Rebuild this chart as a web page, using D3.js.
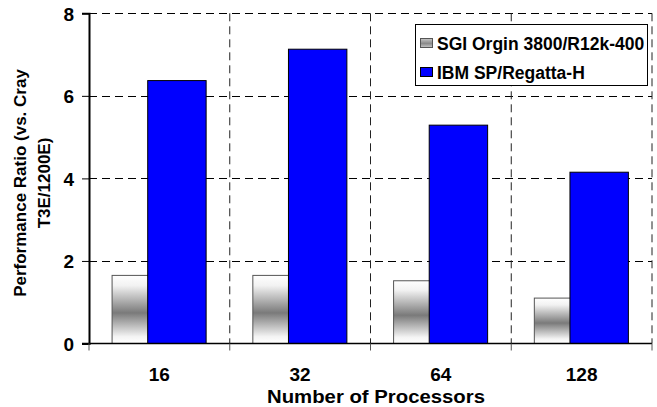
<!DOCTYPE html>
<html>
<head>
<meta charset="utf-8">
<script src="https://cdn.jsdelivr.net/npm/d3@7"></script>
<style>
  html, body { margin: 0; padding: 0; background: #fff; }
  svg { display: block; }
  text { font-family: Arial, "Liberation Sans", sans-serif; font-weight: bold; fill: #000; }
</style>
</head>
<body>
<div id="chart"></div>
<script>
// Processor counts on the x axis
const categories = ["16", "32", "64", "128"];
// Series names (legend order)
const seriesNames = ["SGI Orgin 3800/R12k-400", "IBM SP/Regatta-H"];
// Performance ratio vs. Cray T3E/1200E
const sgiValues = [1.65, 1.65, 1.52, 1.10];
const ibmValues = [6.37, 7.13, 5.29, 4.15];
// Y axis ticks
const yTicks = [0, 2, 4, 6, 8];

const W = 657, H = 407;
const plot = { left: 89, right: 652, top: 13.3, bottom: 343.5 };

const svg = d3.select("#chart").append("svg")
  .attr("width", W).attr("height", H);

// Shaded fill for the SGI bars: light at the ends, dark grey through the middle
const defs = svg.append("defs");
const grad = defs.append("linearGradient")
  .attr("id", "sgiShade").attr("x1", 0).attr("y1", 0).attr("x2", 0).attr("y2", 1);
grad.append("stop").attr("offset", "0%").attr("stop-color", "#ffffff");
grad.append("stop").attr("offset", "15%").attr("stop-color", "#f2f2f2");
grad.append("stop").attr("offset", "55%").attr("stop-color", "#7a7a7a");
grad.append("stop").attr("offset", "90%").attr("stop-color", "#f4f4f4");
grad.append("stop").attr("offset", "100%").attr("stop-color", "#ffffff");

const swatchGrad = defs.append("linearGradient")
  .attr("id", "sgiSwatch").attr("x1", 0).attr("y1", 0).attr("x2", 0).attr("y2", 1);
swatchGrad.append("stop").attr("offset", "0%").attr("stop-color", "#c8c8c8");
swatchGrad.append("stop").attr("offset", "55%").attr("stop-color", "#8a8a8a");
swatchGrad.append("stop").attr("offset", "100%").attr("stop-color", "#c8c8c8");

const x = d3.scaleBand().domain(categories).range([plot.left, plot.right]).paddingInner(0).paddingOuter(0);
const y = d3.scaleLinear().domain([0, 8]).range([plot.bottom, plot.top]);

const band = x.bandwidth();
const barW = band * 0.415;
const edgeGap = band * 0.164;
const step = barW * 0.61; // bars overlap within a group
const seriesOffset = i => edgeGap + i * step;

// Grid lines
const grid = svg.append("g");
grid.selectAll("line.h").data(yTicks.filter(d => d > 0)).enter().append("line")
  .attr("x1", plot.left).attr("x2", plot.right)
  .attr("y1", d => Math.round(y(d)) + 0.5).attr("y2", d => Math.round(y(d)) + 0.5)
  .attr("stroke", "#000").attr("stroke-width", 1).attr("stroke-dasharray", "8,5");
grid.selectAll("line.v").data(categories).enter().append("line")
  .attr("x1", d => x(d) + band).attr("x2", d => x(d) + band)
  .attr("y1", plot.top).attr("y2", plot.bottom)
  .attr("stroke", "#222").attr("stroke-width", 1).attr("stroke-dasharray", "8,5");

// Bars
const series = [
  { values: sgiValues, fill: "url(#sgiShade)", stroke: "#555" },
  { values: ibmValues, fill: "#0000ff", stroke: "#000" }
];
series.forEach((s, i) => {
  svg.append("g").selectAll("rect").data(categories).enter().append("rect")
    .attr("x", c => x(c) + seriesOffset(i))
    .attr("y", (c, j) => y(s.values[j]))
    .attr("width", barW)
    .attr("height", (c, j) => y(0) - y(s.values[j]))
    .attr("fill", s.fill)
    .attr("stroke", s.stroke).attr("stroke-width", 1);
});

// Y axis
const yAxis = d3.axisLeft(y).tickValues(yTicks).tickSize(7).tickPadding(8).tickFormat(d3.format("d"));
const yg = svg.append("g").attr("transform", `translate(${plot.left},0)`).call(yAxis);
yg.select(".domain").attr("stroke", "#000").attr("stroke-width", 2);
yg.selectAll(".tick line").attr("stroke", "#000");
yg.selectAll(".tick text").style("font-size", "19px").attr("dy", "0.36em");

// X axis: line with tick marks at the category boundaries
const xg = svg.append("g");
xg.append("line")
  .attr("x1", plot.left - 7).attr("x2", plot.right)
  .attr("y1", plot.bottom).attr("y2", plot.bottom)
  .attr("stroke", "#000").attr("stroke-width", 1.5);
xg.selectAll("line.t").data([null].concat(categories)).enter().append("line")
  .attr("x1", d => d === null ? plot.left : x(d) + band)
  .attr("x2", d => d === null ? plot.left : x(d) + band)
  .attr("y1", plot.bottom).attr("y2", plot.bottom + 7)
  .attr("stroke", "#555").attr("stroke-width", 1);
xg.selectAll("text").data(categories).enter().append("text")
  .attr("x", d => x(d) + band / 2)
  .attr("y", 381)
  .attr("text-anchor", "middle")
  .style("font-size", "19px")
  .text(d => d);

// Axis titles
svg.append("text")
  .attr("x", 376).attr("y", 403)
  .attr("text-anchor", "middle").style("font-size", "18px")
  .attr("textLength", 218).attr("lengthAdjust", "spacingAndGlyphs")
  .text("Number of Processors");

const yt = svg.append("text")
  .attr("transform", "translate(26,183) rotate(-90)")
  .attr("text-anchor", "middle").style("font-size", "17px");
yt.append("tspan").attr("x", 0).attr("y", 0).text("Performance Ratio (vs. Cray");
yt.append("tspan").attr("x", 0).attr("y", 24).text("T3E/1200E)");

// Legend
const lg = svg.append("g");
lg.append("rect").attr("x", 415.5).attr("y", 24.5).attr("width", 232).attr("height", 61)
  .attr("fill", "#fff").attr("stroke", "#000").attr("stroke-width", 1);
const legendFills = ["url(#sgiSwatch)", "#0000ff"];
const legendStrokes = ["#555", "#000"];
seriesNames.forEach((name, i) => {
  const cy = 43 + i * 29;
  lg.append("rect").attr("x", 420.5).attr("y", cy - 4.5).attr("width", 12).attr("height", 9)
    .attr("fill", legendFills[i]).attr("stroke", legendStrokes[i]);
  lg.append("text").attr("x", 437).attr("y", cy + 6.5).style("font-size", "17.5px").text(name);
});
</script>
</body>
</html>
